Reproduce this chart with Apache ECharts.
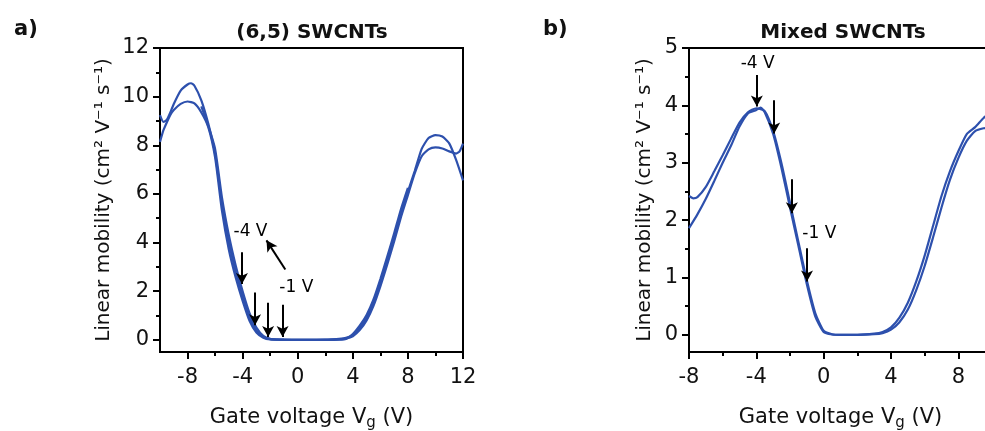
<!DOCTYPE html>
<html>
<head>
<meta charset="utf-8">
<script src="https://cdn.jsdelivr.net/npm/echarts@6/dist/echarts.min.js"></script>
<style>html,body{margin:0;padding:0;background:#fff;}#c{width:985px;height:431px;}</style>
</head>
<body>
<div id="c"></div>
<script>
// ---------- Panel a: (6,5) SWCNTs ----------
const aX1 = [-10,-9.75,-9.5,-9.25,-9,-8.5,-8,-7.75,-7.5,-7,-6.5,-6,-5.5,-5,-4.5,-4,-3.5,-3,-2.5,-2,-1,0,1,2,2.5,3,3.5,4,4.5,5,5.5,6,6.5,7,7.5,8,8.5,9,9.5,10,10.5,11,11.5,12];
const aY1 = [9.24,8.96,9.05,9.35,9.7,10.25,10.5,10.55,10.45,9.85,8.9,7.66,5.6,4.0,2.8,1.8,0.92,0.38,0.12,0.03,0.01,0,0,0.01,0.02,0.04,0.08,0.19,0.48,0.9,1.53,2.37,3.27,4.22,5.23,6.1,6.95,7.85,8.3,8.42,8.36,8.08,7.4,6.56];
const aX2 = [-10,-9.75,-9.5,-9.25,-9,-8.5,-8,-7.5,-7,-6.5,-6,-5.5,-5,-4.5,-4,-3.5,-3,-2.5,-2,-1,0,1,2,2.5,3,3.5,4,4.5,5,5.5,6,6.5,7,7.5,8,8.5,9,9.5,10,10.5,11,11.5,11.75,12];
const aY2 = [8.14,8.62,8.95,9.25,9.45,9.7,9.8,9.72,9.35,8.75,7.5,5.3,3.7,2.55,1.6,0.78,0.3,0.09,0.02,0.005,0,0,0,0.01,0.02,0.05,0.15,0.4,0.8,1.4,2.2,3.1,4.05,5.05,5.95,6.85,7.55,7.83,7.91,7.87,7.75,7.66,7.75,8.07];
const aX3 = [-7,-6.5,-6,-5.5,-5,-4.5,-4,-3.5,-3,-2.5,-2,-1.5,-1,0,2,3,3.5,4,4.5,5,5.5,6,6.5,7,7.5,8];
const aY3 = [9.6,8.8,7.85,5.85,4.3,3.05,2.0,1.1,0.5,0.16,0.04,0.01,0,0,0,0.01,0.04,0.24,0.58,1.02,1.66,2.5,3.42,4.38,5.38,6.25];
const aXTicks = [-8,-4,0,4,8,12];
const aXMinor = [-6,-2,2,6,10];
const aYTicks = [0,2,4,6,8,10,12];
const aYMinor = [1,3,5,7,9,11];
// arrows: [xStart, yStart, xEnd, yEnd]
const aArrows = [[-4.05,3.6,-4.05,2.3],[-3.1,1.95,-3.1,0.6],[-2.15,1.52,-2.15,0.12],[-1.1,1.44,-1.1,0.12],[-0.9,2.89,-2.27,4.09]];
const aLabels = [['-4 V',-3.43,4.44],['-1 V',-0.1,2.13]];

// ---------- Panel b: Mixed SWCNTs ----------
const bX1 = [-8,-7.75,-7.5,-7,-6.5,-6,-5.5,-5,-4.5,-4,-3.5,-3,-2.5,-2,-1.5,-1,-0.5,0,0.5,1,2,3,3.5,4,4.5,5,5.5,6,6.5,7,7.5,8,8.5,9,9.5,10];
const bY1 = [2.42,2.38,2.4,2.58,2.85,3.13,3.42,3.7,3.88,3.95,3.9,3.55,2.98,2.3,1.62,0.95,0.38,0.07,0.01,0,0,0.02,0.05,0.13,0.3,0.56,0.93,1.38,1.9,2.42,2.85,3.2,3.5,3.62,3.78,3.9];
const bX2 = [-8,-7.5,-7,-6.5,-6,-5.5,-5,-4.5,-4,-3.75,-3.5,-3,-2.5,-2,-1.5,-1,-0.5,0,0.5,1,2,3,3.5,4,4.5,5,5.5,6,6.5,7,7.5,8,8.5,9,9.5,10];
const bY2 = [1.86,2.1,2.37,2.68,3.0,3.3,3.63,3.86,3.92,3.96,3.88,3.5,2.9,2.22,1.55,0.88,0.32,0.05,0.005,0,0,0.01,0.03,0.09,0.22,0.44,0.78,1.2,1.7,2.22,2.7,3.08,3.38,3.55,3.6,3.62];
const bXTicks = [-8,-4,0,4,8];
const bXMinor = [-6,-2,2,6,10];
const bYTicks = [0,1,2,3,4,5];
const bYMinor = [0.5,1.5,2.5,3.5,4.5];
const bArrows = [[-3.97,4.53,-3.97,3.98],[-2.94,4.09,-2.94,3.51],[-1.89,2.71,-1.89,2.12],[-0.99,1.51,-0.99,0.93]];
const bLabels = [['-4 V',-3.92,4.73],['-1 V',-0.26,1.77]];

const FONT = 'DejaVu Sans';
const BLUE = '#2d50ad';
const TXT = '#111';

function pairs(xs, ys){ return xs.map((x,i)=>[x, ys[i]]); }

function mainX(grid, min, max, ticks){
  return {type:'value', gridIndex:grid, min:min, max:max, position:'bottom',
    axisLine:{show:true, onZero:false, lineStyle:{color:'#000', width:2}},
    axisTick:{show:true, inside:false, length:7, customValues:ticks, lineStyle:{color:'#000', width:2}},
    axisLabel:{show:true, customValues:ticks, margin:15, fontFamily:FONT, fontSize:21, color:TXT},
    splitLine:{show:false},
    name:'Gate voltage V{s|g} (V)', nameLocation:'middle', nameGap:52,
    nameTextStyle:{fontFamily:FONT, fontSize:21, color:TXT, rich:{s:{fontFamily:FONT, fontSize:15, color:TXT, padding:[12,0,0,0]}}}
  };
}
function minorX(grid, min, max, ticks){
  return {type:'value', gridIndex:grid, min:min, max:max, position:'bottom',
    axisLine:{show:false, onZero:false}, axisLabel:{show:false}, splitLine:{show:false},
    axisTick:{show:true, inside:false, length:4, customValues:ticks, lineStyle:{color:'#000', width:2}}};
}
function mainY(grid, min, max, ticks, gap){
  return {type:'value', gridIndex:grid, min:min, max:max, position:'left',
    axisLine:{show:true, onZero:false, lineStyle:{color:'#000', width:2}},
    axisTick:{show:true, inside:false, length:7, customValues:ticks, lineStyle:{color:'#000', width:2}},
    axisLabel:{show:true, customValues:ticks, margin:11, fontFamily:FONT, fontSize:21, color:TXT},
    splitLine:{show:false},
    name:'Linear mobility (cm² V⁻¹ s⁻¹)', nameLocation:'middle', nameGap:gap, nameRotate:90,
    nameTextStyle:{fontFamily:FONT, fontSize:20, color:TXT}
  };
}
function minorY(grid, min, max, ticks){
  return {type:'value', gridIndex:grid, min:min, max:max, position:'left',
    axisLine:{show:false, onZero:false}, axisLabel:{show:false}, splitLine:{show:false},
    axisTick:{show:true, inside:false, length:4, customValues:ticks, lineStyle:{color:'#000', width:2}}};
}
function curve(name, xi, yi, xs, ys){
  return {name:name, type:'line', xAxisIndex:xi, yAxisIndex:yi, data:pairs(xs,ys),
    showSymbol:false, smooth:0.2, lineStyle:{color:BLUE, width:2.2}, itemStyle:{color:BLUE}, silent:true, z:3};
}
function annot(name, xi, yi, arrows, labels){
  return {name:name, type:'scatter', xAxisIndex:xi, yAxisIndex:yi, symbolSize:0, silent:true, z:5,
    itemStyle:{color:'#000'},
    data: labels.map(l=>({name:l[0], value:[l[1], l[2]]})),
    label:{show:false},
    markPoint:{silent:true, symbol:'circle', symbolSize:0, itemStyle:{color:'#000'},
      label:{show:true, position:'inside', formatter:'{b}', fontFamily:FONT, fontSize:17, color:'#000', textBorderWidth:0},
      data: labels.map(l=>({name:l[0], coord:[l[1], l[2]]}))},
    markLine:{silent:true, symbol:['none','arrow'], symbolSize:[9,11], label:{show:false},
      lineStyle:{color:'#000', width:2, type:'solid'},
      emphasis:{disabled:true},
      data: arrows.map(a=>[{coord:[a[0],a[1]]},{coord:[a[2],a[3]]}])}
  };
}

const chart = echarts.init(document.getElementById('c'), null, {renderer:'canvas'});
chart.setOption({
  animation:false,
  backgroundColor:'#fff',
  title:[
    {text:'a)', left:9, top:14, textStyle:{fontFamily:FONT, fontSize:21, fontWeight:'bold', color:TXT}},
    {text:'b)', left:538, top:14, textStyle:{fontFamily:FONT, fontSize:21, fontWeight:'bold', color:TXT}},
    {text:'(6,5) SWCNTs', left:307, top:18, textAlign:'center', textStyle:{fontFamily:FONT, fontSize:20, fontWeight:'bold', color:TXT}},
    {text:'Mixed SWCNTs', left:838, top:18, textAlign:'center', textStyle:{fontFamily:FONT, fontSize:20, fontWeight:'bold', color:TXT}}
  ],
  grid:[
    {left:160, right:522, top:48, bottom:79, show:true, borderColor:'#000', borderWidth:2, containLabel:false, outerBoundsMode:'none'},
    {left:689, right:-7, top:48, bottom:79, show:true, borderColor:'#000', borderWidth:2, containLabel:false, outerBoundsMode:'none'}
  ],
  xAxis:[ mainX(0,-10,12,aXTicks), minorX(0,-10,12,aXMinor), mainX(1,-8,10,bXTicks), minorX(1,-8,10,bXMinor) ],
  yAxis:[ mainY(0,-0.5,12,aYTicks,46), minorY(0,-0.5,12,aYMinor), mainY(1,-0.3,5,bYTicks,34), minorY(1,-0.3,5,bYMinor) ],
  series:[
    curve('a1',0,0,aX1,aY1), curve('a2',0,0,aX2,aY2), curve('a3',0,0,aX3,aY3),
    annot('aAnn',0,0,aArrows,aLabels),
    curve('b1',2,2,bX1,bY1), curve('b2',2,2,bX2,bY2),
    annot('bAnn',2,2,bArrows,bLabels)
  ]
});
</script>
</body>
</html>
